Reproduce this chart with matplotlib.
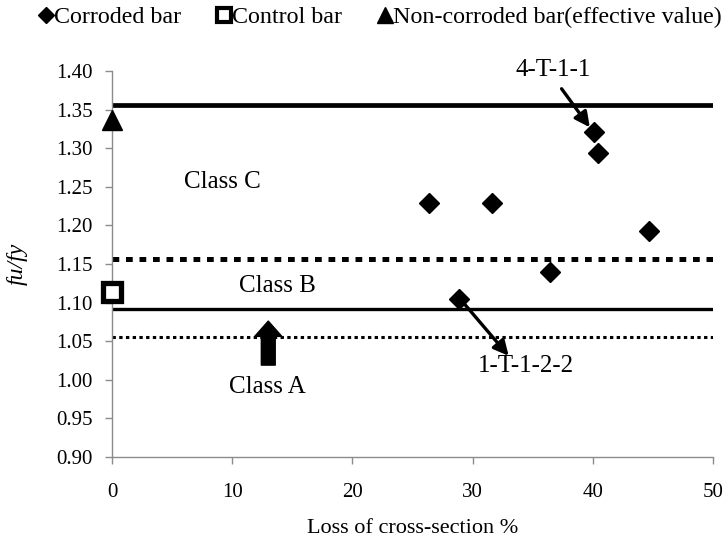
import matplotlib
matplotlib.use("Agg")
import matplotlib.pyplot as plt
from matplotlib.lines import Line2D

plt.rcParams['font.family'] = 'serif'
plt.rcParams['font.serif'] = ['Liberation Serif', 'DejaVu Serif']
SERIF = 'Liberation Serif'

# Corroded bars: loss of cross-section (%) and fu/fy
corroded_loss = [26.4, 31.6, 28.9, 36.4, 40.1, 40.4, 44.7]
corroded_ratio = [1.229, 1.229, 1.105, 1.139, 1.321, 1.294, 1.193]

# Control bar and non-corroded bar (effective value)
control_loss = [0.0]
control_ratio = [1.114]
noncorr_loss = [0.0]
noncorr_ratio = [1.336]

# Class limit lines
class_c_upper = 1.356
class_c_lower = 1.157
class_b_lower = 1.092
class_a_lower = 1.055

x_ticks = [0, 10, 20, 30, 40, 50]
y_ticks = [0.90, 0.95, 1.00, 1.05, 1.10, 1.15, 1.20, 1.25, 1.30, 1.35, 1.40]

fig = plt.figure(figsize=(7.25, 5.41), dpi=100)
ax = fig.add_axes([0.1545, 0.1553, 0.8290, 0.7135])

ax.set_xlim(0, 50)
ax.set_ylim(0.90, 1.40)

grey = '#8c8c8c'
for side in ('top', 'right'):
    ax.spines[side].set_visible(False)
for side in ('left', 'bottom'):
    ax.spines[side].set_color(grey)
    ax.spines[side].set_linewidth(1.0)

ax.set_xticks(x_ticks)
ax.set_yticks(y_ticks)
ax.set_xticklabels([str(v) for v in x_ticks], fontfamily=SERIF, fontsize=15)
ax.set_yticklabels([f"{v:.2f}" for v in y_ticks], fontfamily=SERIF, fontsize=15)
ax.tick_params(axis='both', direction='out', length=5, width=1.0, color=grey,
               labelcolor='black')
ax.tick_params(axis='x', pad=14)
ax.tick_params(axis='y', pad=9)

# Class boundary lines
ax.axhline(class_c_upper, color='black', lw=3.4, solid_capstyle='butt')
ax.axhline(class_c_lower, color='black', lw=3.6, linestyle=(0, (1.35, 1.35)),
           dash_capstyle='butt')
ax.axhline(class_b_lower, color='black', lw=2.4, solid_capstyle='butt')
ax.axhline(class_a_lower, color='black', lw=2.2, linestyle=(0, (1.1, 1.1)),
           dash_capstyle='butt')

# Data points
ax.plot(corroded_loss, corroded_ratio, linestyle='none', marker='D', ms=10.5,
        color='black', clip_on=False, zorder=5)
ax.plot(control_loss, control_ratio, linestyle='none', marker='s', ms=13,
        mfc='white', mec='black', mew=3.8, clip_on=False, zorder=5)
ax.plot(noncorr_loss, noncorr_ratio, linestyle='none', marker='^', ms=15,
        color='black', clip_on=False, zorder=5)

# Class labels
txt = dict(fontsize=18, ha='center', va='center', color='black', fontfamily=SERIF)
ax.text(9.2, 1.256, 'Class C', **txt)
ax.text(13.8, 1.121, 'Class B', **txt)
ax.text(12.9, 0.991, 'Class A', **txt)

# Class A indicator arrow
ax.annotate('', xy=(13.0, 1.076), xytext=(13.0, 1.019),
            arrowprops=dict(arrowstyle='simple,head_width=1.95,head_length=1.1,tail_width=1.0',
                            color='black', shrinkA=0, shrinkB=0, mutation_scale=10))

arrow_kw = dict(arrowstyle='-|>,head_length=0.9,head_width=0.45',
                color='black', lw=2.4, shrinkA=0, shrinkB=0)

# Specimen callouts
ax.text(36.7, 1.401, '4-T-1-1', **txt)
ax.annotate('', xy=(39.75, 1.327), xytext=(37.4, 1.377), arrowprops=arrow_kw)

ax.text(34.4, 1.018, '1-T-1-2-2', **txt)
ax.annotate('', xy=(33.0, 1.031), xytext=(29.0, 1.104), arrowprops=arrow_kw)

ax.set_xlabel('Loss of cross-section %', fontsize=16, labelpad=12, fontfamily=SERIF)
ax.set_ylabel('fu/fy', fontsize=17, style='italic', labelpad=20, fontfamily=SERIF)

handles = [
    Line2D([], [], linestyle='none', marker='D', ms=8, color='black'),
    Line2D([], [], linestyle='none', marker='s', ms=10, mfc='white', mec='black', mew=3),
    Line2D([], [], linestyle='none', marker='^', ms=11, color='black'),
]
labels = ['Corroded bar', 'Control bar', 'Non-corroded bar(effective value)']
fig.legend(handles, labels, loc='center', bbox_to_anchor=(0.524, 0.968), ncol=3,
           frameon=False, prop={'family': SERIF, 'size': 17.3},
           handlelength=0.6, handletextpad=0.02,
           columnspacing=1.5, borderaxespad=0, borderpad=0)

fig.savefig('out.png', dpi=100)
